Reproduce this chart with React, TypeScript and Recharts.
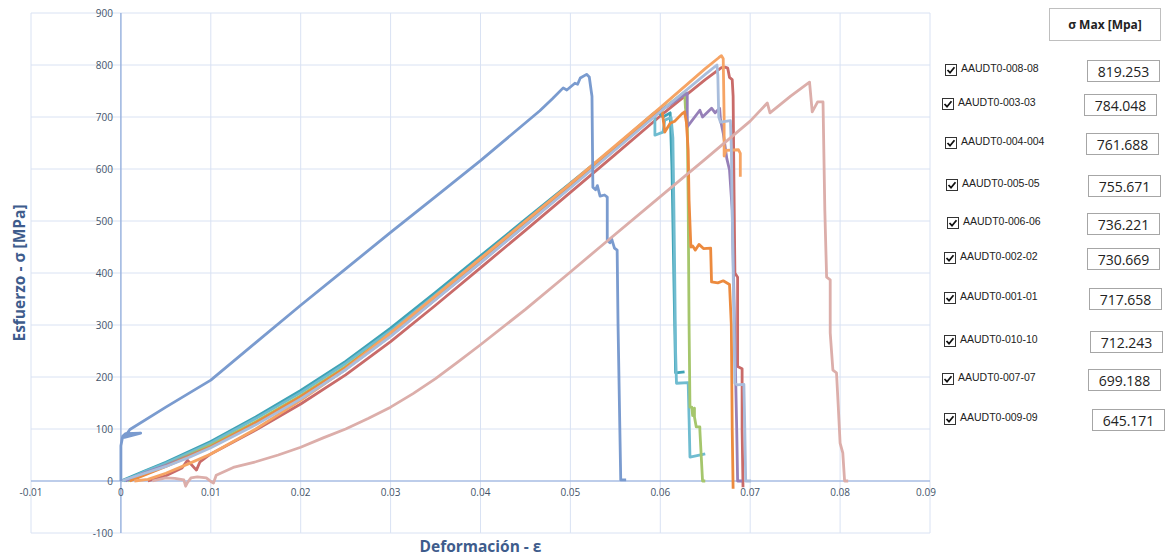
import { LineChart, Line, XAxis, YAxis, CartesianGrid, ReferenceLine } from 'recharts';

// ---- data (strain ε, stress σ [MPa]) ----
const X_TICKS = [-0.01, 0, 0.01, 0.02, 0.03, 0.04, 0.05, 0.06, 0.07, 0.08, 0.09];
const Y_TICKS = [-100, 0, 100, 200, 300, 400, 500, 600, 700, 800, 900];

const NAMES = [
  'AAUDT0-008-08', 'AAUDT0-003-03', 'AAUDT0-004-004', 'AAUDT0-005-05', 'AAUDT0-006-06',
  'AAUDT0-002-02', 'AAUDT0-001-01', 'AAUDT0-010-10', 'AAUDT0-007-07', 'AAUDT0-009-09',
];
const SIGMA_MAX = [819.253, 784.048, 761.688, 755.671, 736.221, 730.669, 717.658, 712.243, 699.188, 645.171];

const s008: [number, number][] = [
  [0.0015, 0], [0.003, 3], [0.005, 15], [0.0075, 33], [0.01, 52], [0.015, 100], [0.02, 155],
  [0.025, 215], [0.03, 285], [0.035, 356], [0.04, 428], [0.045, 500], [0.05, 572], [0.055, 645],
  [0.06, 718], [0.065, 793], [0.0665, 814], [0.0668, 818], [0.067, 812], [0.0671, 700],
  [0.0671, 625], [0.0673, 636], [0.0687, 637], [0.0689, 630], [0.0689, 585],
];
const s003: [number, number][] = [
  [0, 0], [0, 45], [0, 68], [0.0002, 86], [0.0005, 91], [0.0022, 92], [0.0004, 84], [0.001, 99],
  [0.005, 142], [0.01, 194], [0.015, 266], [0.02, 338], [0.025, 408], [0.03, 478], [0.035, 547],
  [0.04, 616], [0.0466, 712], [0.048, 735], [0.0492, 756], [0.0496, 752], [0.0505, 765],
  [0.0508, 763], [0.0511, 775], [0.0518, 782], [0.0521, 777], [0.0523, 752], [0.0524, 740],
  [0.0525, 565], [0.0528, 560], [0.053, 568], [0.0533, 548], [0.0538, 550], [0.0541, 546],
  [0.0541, 463], [0.0544, 458], [0.0546, 465], [0.0549, 448], [0.0552, 444], [0.0553, 300],
  [0.0555, 100], [0.0556, 2], [0.0562, 2],
];
const s004: [number, number][] = [
  [0.003, 0], [0.005, 10], [0.0068, 25], [0.0074, 40], [0.0084, 21], [0.0088, 37], [0.0095, 46],
  [0.01, 52], [0.015, 98], [0.02, 148], [0.025, 204], [0.03, 268], [0.035, 338], [0.04, 410],
  [0.045, 482], [0.05, 555], [0.055, 628], [0.06, 702], [0.065, 772], [0.0668, 795], [0.0672, 796],
  [0.0675, 794], [0.0677, 776], [0.068, 772], [0.0681, 740], [0.0682, 560], [0.0683, 400],
  [0.0686, 392], [0.0686, 220], [0.0691, 216], [0.0691, 100], [0.0692, -12],
];
const s005: [number, number][] = [
  [0, 0], [0.0025, 14], [0.005, 28], [0.0075, 45], [0.01, 64], [0.015, 108], [0.02, 158],
  [0.025, 214], [0.03, 278], [0.035, 349], [0.04, 420], [0.045, 492], [0.05, 564], [0.055, 637],
  [0.06, 710], [0.065, 782], [0.0663, 800], [0.0664, 780], [0.0665, 700], [0.0667, 690],
  [0.0678, 693], [0.0679, 640], [0.068, 520], [0.0682, 300], [0.0683, 188], [0.0685, 185],
  [0.0693, 186], [0.0694, 100], [0.0695, 0], [0.0701, 0],
];
const s006: [number, number][] = [
  [0.0005, 0], [0.0025, 15], [0.005, 30], [0.01, 66], [0.015, 110], [0.02, 160], [0.025, 215],
  [0.03, 279], [0.035, 349], [0.04, 420], [0.045, 492], [0.05, 565], [0.055, 638], [0.06, 712],
  [0.063, 746], [0.063, 681], [0.0644, 713], [0.0647, 700], [0.0657, 717], [0.0661, 708],
  [0.0666, 717], [0.0667, 694], [0.067, 669], [0.0674, 620], [0.0677, 598], [0.068, 521],
  [0.0682, 348], [0.0685, 100], [0.0686, 0], [0.0691, 0],
];
const s002: [number, number][] = [
  [0.0035, 0], [0.005, 6], [0.006, 5], [0.007, 2], [0.0072, -10], [0.0074, -3], [0.0078, 6],
  [0.0085, 8], [0.0095, 6], [0.0101, -2], [0.0103, -4], [0.0106, 11], [0.0125, 26], [0.015, 37],
  [0.0175, 50], [0.02, 65], [0.0225, 83], [0.025, 100], [0.0275, 120], [0.03, 142], [0.0325, 168],
  [0.035, 197], [0.0375, 229], [0.04, 262], [0.045, 330], [0.05, 402], [0.0533, 450], [0.06, 547],
  [0.065, 619], [0.07, 692], [0.0719, 727], [0.0722, 708], [0.0745, 740], [0.0766, 767],
  [0.0769, 710], [0.0775, 729], [0.0781, 729], [0.0783, 521], [0.0785, 392], [0.0789, 387],
  [0.0789, 285], [0.0792, 213], [0.0796, 208], [0.0798, 142], [0.08, 73], [0.0803, 54],
  [0.0805, 0], [0.0809, 0],
];
const s001: [number, number][] = [
  [0.0008, 0], [0.0025, 12], [0.005, 30], [0.01, 69], [0.015, 114], [0.02, 164], [0.025, 220],
  [0.03, 284], [0.035, 353], [0.04, 424], [0.045, 495], [0.05, 566], [0.055, 639], [0.06, 712],
  [0.0627, 748], [0.0628, 717], [0.063, 690], [0.0631, 540], [0.0632, 300], [0.0633, 142],
  [0.0635, 142], [0.0636, 126], [0.0638, 140], [0.0638, 123], [0.064, 104], [0.0644, 104],
  [0.0644, 98], [0.0647, 0], [0.065, 0],
];
const s010: [number, number][] = [
  [0.0003, 0], [0.0025, 17], [0.005, 34], [0.01, 73], [0.015, 120], [0.02, 170], [0.025, 226],
  [0.03, 289], [0.035, 358], [0.04, 428], [0.045, 498], [0.05, 568], [0.055, 640], [0.0594, 706],
  [0.0594, 665], [0.0603, 671], [0.0605, 694], [0.0612, 699], [0.0614, 660], [0.0615, 540],
  [0.0616, 400], [0.0617, 250], [0.0618, 188], [0.0631, 189], [0.0632, 120], [0.0633, 46],
  [0.065, 52],
];
const s007: [number, number][] = [
  [0.001, 0], [0.005, 28], [0.01, 66], [0.015, 112], [0.02, 162], [0.025, 218], [0.03, 284],
  [0.035, 354], [0.04, 425], [0.045, 496], [0.05, 568], [0.055, 640], [0.06, 712], [0.0602, 712],
  [0.0603, 698], [0.0605, 671], [0.0611, 688], [0.0616, 692], [0.0624, 706], [0.0627, 710],
  [0.0629, 690], [0.0631, 636], [0.0632, 540], [0.0634, 450], [0.0636, 452], [0.0639, 444],
  [0.0643, 455], [0.0648, 447], [0.0656, 448], [0.0657, 383], [0.0664, 381], [0.067, 385],
  [0.0677, 378], [0.0679, 300], [0.068, 100], [0.0681, -15],
];
const s009: [number, number][] = [
  [0, 0], [0.0025, 18], [0.005, 36], [0.01, 76], [0.015, 123], [0.02, 174], [0.025, 230],
  [0.03, 294], [0.035, 363], [0.04, 433], [0.045, 503], [0.05, 573], [0.055, 643], [0.0592, 706],
  [0.0597, 712], [0.0603, 700], [0.0611, 708], [0.0613, 600], [0.0615, 400], [0.0617, 208],
  [0.0627, 210],
];

// ---- styling ----
const COLORS: Record<string, string> = {
  'AAUDT0-008-08': '#f6a464',
  'AAUDT0-003-03': '#7a9bcf',
  'AAUDT0-004-004': '#c96b69',
  'AAUDT0-005-05': '#a9bddc',
  'AAUDT0-006-06': '#9680b8',
  'AAUDT0-002-02': '#dcaeaa',
  'AAUDT0-001-01': '#a5c66c',
  'AAUDT0-010-10': '#6fbcd0',
  'AAUDT0-007-07': '#ec8a3e',
  'AAUDT0-009-09': '#3fa3b6',
};

const SERIES = [
  { name: 'AAUDT0-004-004', pts: s004 },
  { name: 'AAUDT0-009-09', pts: s009 },
  { name: 'AAUDT0-010-10', pts: s010 },
  { name: 'AAUDT0-001-01', pts: s001 },
  { name: 'AAUDT0-006-06', pts: s006 },
  { name: 'AAUDT0-007-07', pts: s007 },
  { name: 'AAUDT0-008-08', pts: s008 },
  { name: 'AAUDT0-005-05', pts: s005 },
  { name: 'AAUDT0-003-03', pts: s003 },
  { name: 'AAUDT0-002-02', pts: s002 },
].map((s) => ({ ...s, data: s.pts.map(([x, y]) => ({ x, y })) }));

// layout of the side table (screen pixels)
const ROW_TOP = [60, 94, 133, 175, 213, 248, 288, 331, 369, 409];
const BOX_LEFT = [147, 144, 146, 148, 147, 147, 149, 150, 148, 152];
const CHECK_LEFT = [5, 2, 5, 6, 7, 4, 4, 4, 2, 4];

const TICK_COLOR = '#44546a';
const TITLE_COLOR = '#3e5c8c';
const ZERO_SHIFT_Y = 52; // distance from plot bottom to σ = 0
const ZERO_SHIFT_X = 90; // distance from plot left to ε = 0

const XTick = ({ x, y, payload }: any) => (
  <text x={x} y={y - ZERO_SHIFT_Y} dy="0.71em" textAnchor="middle" fill={TICK_COLOR}
    fontSize={10} fontFamily="'Open Sans', sans-serif">
    {payload.value}
  </text>
);

const YTick = ({ x, y, payload }: any) => (
  <text x={x + ZERO_SHIFT_X} y={y} dy="0.355em" textAnchor="end" fill={TICK_COLOR}
    fontSize={10} fontFamily="'Open Sans', sans-serif">
    {payload.value}
  </text>
);

const YTitle = ({ viewBox }: any) => {
  const cx = viewBox.x + 19;
  const cy = viewBox.y + viewBox.height / 2;
  return (
    <text x={cx} y={cy} transform={`rotate(-90 ${cx} ${cy})`} textAnchor="middle" dy="0.355em"
      fill={TITLE_COLOR} fontSize={15.5} fontWeight={700} fontFamily="'Open Sans', sans-serif">
      Esfuerzo - σ [MPa]
    </text>
  );
};

const CheckBox = () => (
  <svg width={12} height={12} style={{ display: 'block' }}>
    <rect x={0.5} y={0.5} width={11} height={11} fill="#fff" stroke="#333" />
    <path d="M2.5 6 L5 8.7 L9.5 3.2" fill="none" stroke="#111" strokeWidth={1.8} />
  </svg>
);

export default function App() {
  return (
    <div style={{ position: 'absolute', left: 0, top: 0, width: 1166, height: 560, background: '#fff' }}>
      <LineChart width={940} height={560} margin={{ top: 13, right: 10, bottom: 0, left: 0 }}>
        <CartesianGrid stroke="#d9e2f3" />
        <XAxis
          type="number"
          dataKey="x"
          domain={[-0.01, 0.09]}
          ticks={X_TICKS}
          allowDataOverflow
          axisLine={false}
          tickLine={false}
          height={27}
          tick={<XTick />}
          label={{
            value: 'Deformación - ε', position: 'center', fill: TITLE_COLOR,
            fontSize: 15.5, fontWeight: 700, fontFamily: "'Open Sans', sans-serif",
          }}
        />
        <YAxis
          type="number"
          domain={[-100, 900]}
          ticks={Y_TICKS}
          allowDataOverflow
          axisLine={false}
          tickLine={false}
          width={31}
          tick={<YTick />}
          label={{ content: <YTitle /> }}
        />
        <ReferenceLine x={0} stroke="#8eaadb" strokeWidth={1.2} />
        <ReferenceLine y={0} stroke="#8eaadb" strokeWidth={1.2} />
        {SERIES.map((s) => (
          <Line
            key={s.name}
            name={s.name}
            data={s.data}
            dataKey="y"
            type="linear"
            stroke={COLORS[s.name]}
            strokeWidth={2.8}
            strokeLinejoin="round"
            dot={false}
            activeDot={false}
            isAnimationActive={false}
          />
        ))}
      </LineChart>

      <div style={{ position: 'absolute', left: 940, top: 0, width: 226, height: 560, fontFamily: "'Open Sans', sans-serif" }}>
        <div style={{
          position: 'absolute', left: 109, top: 8, width: 110, height: 31, border: '1px solid #bfbfbf',
          display: 'flex', alignItems: 'center', justifyContent: 'center', fontSize: 12, fontWeight: 700, color: '#222',
        }}>
          σ Max [Mpa]
        </div>
        {NAMES.map((n, i) => (
          <div key={n}>
            <div style={{ position: 'absolute', left: CHECK_LEFT[i], top: ROW_TOP[i] + 4 }}>
              <CheckBox />
            </div>
            <div style={{
              position: 'absolute', left: CHECK_LEFT[i] + 16, top: ROW_TOP[i] + 2, fontSize: 10.5,
              fontFamily: "'Liberation Sans', Arial, sans-serif", color: '#222', whiteSpace: 'nowrap',
            }}>
              {n}
            </div>
            <div style={{
              position: 'absolute', left: BOX_LEFT[i], top: ROW_TOP[i], width: 71, height: 20,
              border: '1px solid #a6a6a6', display: 'flex', alignItems: 'center', justifyContent: 'center',
              fontSize: 14, color: '#222',
            }}>
              {SIGMA_MAX[i].toFixed(3)}
            </div>
          </div>
        ))}
      </div>
    </div>
  );
}
